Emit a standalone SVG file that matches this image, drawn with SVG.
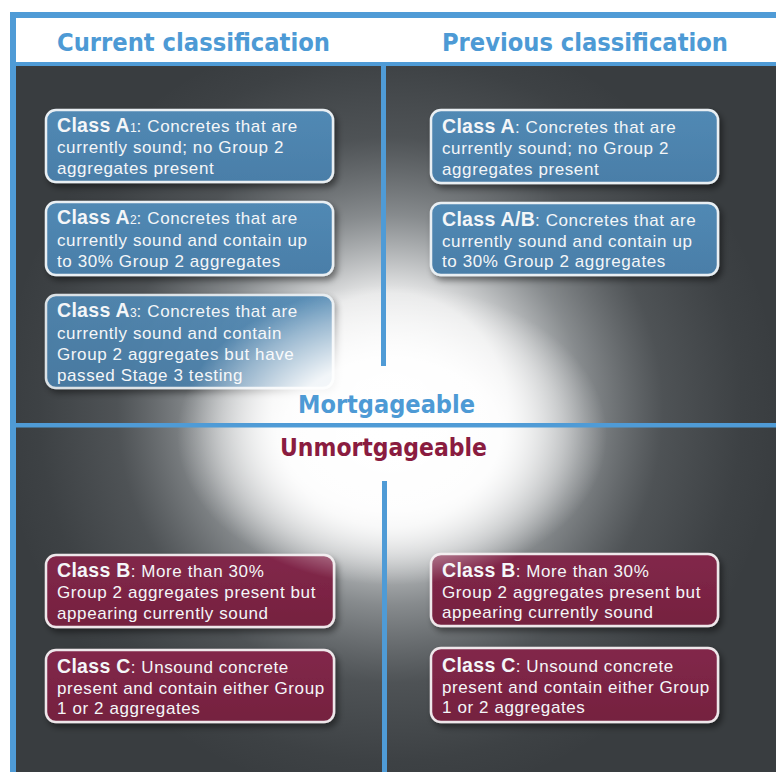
<svg xmlns="http://www.w3.org/2000/svg" width="776" height="772" viewBox="0 0 776 772">
  <defs>
    <radialGradient id="halo" cx="390" cy="410" r="390" gradientUnits="userSpaceOnUse">
      <stop offset="0" stop-color="#ffffff" stop-opacity="1"/>
      <stop offset="0.3" stop-color="#ffffff" stop-opacity="0.88"/>
      <stop offset="0.5" stop-color="#e6eaec" stop-opacity="0.45"/>
      <stop offset="0.7" stop-color="#c8cdd0" stop-opacity="0.15"/>
      <stop offset="0.9" stop-color="#c8cdd0" stop-opacity="0.03"/>
      <stop offset="1" stop-color="#c8cdd0" stop-opacity="0"/>
    </radialGradient>
    <radialGradient id="core" cx="0.5" cy="0.5" r="0.5">
      <stop offset="0" stop-color="#ffffff" stop-opacity="1"/>
      <stop offset="0.5" stop-color="#ffffff" stop-opacity="0.92"/>
      <stop offset="0.8" stop-color="#ffffff" stop-opacity="0.4"/>
      <stop offset="1" stop-color="#ffffff" stop-opacity="0"/>
    </radialGradient>
    <linearGradient id="blueFill" x1="0" y1="0" x2="0" y2="1">
      <stop offset="0" stop-color="#5189b4"/>
      <stop offset="1" stop-color="#4a7ea8"/>
    </linearGradient>
    <linearGradient id="redFill" x1="0" y1="0" x2="0" y2="1">
      <stop offset="0" stop-color="#82284a"/>
      <stop offset="1" stop-color="#75203f"/>
    </linearGradient>
    <filter id="shadow" x="-10%" y="-20%" width="125%" height="150%">
      <feDropShadow dx="3" dy="4" stdDeviation="3" flood-color="#000" flood-opacity="0.45"/>
    </filter>
  </defs>
  <style>
    .box-blue { fill: url(#blueFill); stroke: #e9eff3; stroke-width: 2.5; filter: url(#shadow); }
    .box-red { fill: url(#redFill); stroke: #eee7ea; stroke-width: 2.5; filter: url(#shadow); }
    .t { font-family: "Liberation Sans", Arial, sans-serif; font-size: 17px; fill: #f4f6f8; letter-spacing: 0.6px; }
    .b { font-weight: bold; font-size: 19.5px; letter-spacing: 0.3px; }
    .sub { font-size: 12px; font-weight: normal; letter-spacing: 0; }
    .head { font-family: "DejaVu Sans Condensed", "DejaVu Sans", sans-serif; font-stretch: condensed; font-weight: bold; font-size: 25px; fill: #4d9ad5; }
    .zone { font-family: "DejaVu Sans Condensed", "DejaVu Sans", sans-serif; font-stretch: condensed; font-weight: bold; font-size: 24px; }
    .line { fill: #4f9bd6; }
  </style>

  <!-- page & frame -->
  <rect x="0" y="0" width="776" height="772" fill="#ffffff"/>
  <rect x="16" y="66" width="760" height="706" fill="#393d40"/>
  <rect x="16" y="66" width="760" height="706" fill="url(#halo)"/>
  <rect x="10" y="12" width="766" height="6" class="line"/>
  <rect x="10" y="12" width="6" height="760" class="line"/>
  <rect x="16" y="18" width="760" height="44" fill="#ffffff"/>
  <rect x="16" y="62" width="760" height="4" class="line"/>

  <g id="headers">
    <text class="head" x="57" y="51" textLength="273" lengthAdjust="spacingAndGlyphs">Current classification</text>
    <text class="head" x="442" y="51" textLength="286" lengthAdjust="spacingAndGlyphs">Previous classification</text>
  </g>

  <g id="current-A1">
    <rect class="box-blue" x="46" y="110" width="287" height="72" rx="10"/>
    <text class="t" x="57" y="132"><tspan class="b">Class A<tspan class="sub">1</tspan></tspan>: Concretes that are</text>
    <text class="t" x="57" y="153">currently sound; no Group 2</text>
    <text class="t" x="57" y="174">aggregates present</text>
  </g>
  <g id="current-A2">
    <rect class="box-blue" x="46" y="202" width="287" height="73" rx="10"/>
    <text class="t" x="57" y="224"><tspan class="b">Class A<tspan class="sub">2</tspan></tspan>: Concretes that are</text>
    <text class="t" x="57" y="246">currently sound and contain up</text>
    <text class="t" x="57" y="267">to 30% Group 2 aggregates</text>
  </g>
  <g id="current-A3">
    <rect class="box-blue" x="46" y="295" width="287" height="93" rx="10" opacity="0.92"/>
    <text class="t" x="57" y="317"><tspan class="b">Class A<tspan class="sub">3</tspan></tspan>: Concretes that are</text>
    <text class="t" x="57" y="339">currently sound and contain</text>
    <text class="t" x="57" y="360">Group 2 aggregates but have</text>
    <text class="t" x="57" y="381">passed Stage 3 testing</text>
  </g>
  <g id="previous-A">
    <rect class="box-blue" x="431" y="110" width="287" height="73" rx="10"/>
    <text class="t" x="442" y="133"><tspan class="b">Class A</tspan>: Concretes that are</text>
    <text class="t" x="442" y="154">currently sound; no Group 2</text>
    <text class="t" x="442" y="175">aggregates present</text>
  </g>
  <g id="previous-AB">
    <rect class="box-blue" x="431" y="203" width="287" height="72" rx="10"/>
    <text class="t" x="442" y="226"><tspan class="b">Class A/B</tspan>: Concretes that are</text>
    <text class="t" x="442" y="247">currently sound and contain up</text>
    <text class="t" x="442" y="267">to 30% Group 2 aggregates</text>
  </g>

  <g id="current-B">
    <rect class="box-red" x="46" y="555" width="288" height="72" rx="10"/>
    <text class="t" x="57" y="577"><tspan class="b">Class B</tspan>: More than 30%</text>
    <text class="t" x="57" y="598">Group 2 aggregates present but</text>
    <text class="t" x="57" y="619">appearing currently sound</text>
  </g>
  <g id="current-C">
    <rect class="box-red" x="46" y="650" width="288" height="72" rx="10"/>
    <text class="t" x="57" y="673"><tspan class="b">Class C</tspan>: Unsound concrete</text>
    <text class="t" x="57" y="694">present and contain either Group</text>
    <text class="t" x="57" y="714">1 or 2 aggregates</text>
  </g>
  <g id="previous-B">
    <rect class="box-red" x="431" y="554" width="287" height="72" rx="10"/>
    <text class="t" x="442" y="577"><tspan class="b">Class B</tspan>: More than 30%</text>
    <text class="t" x="442" y="598">Group 2 aggregates present but</text>
    <text class="t" x="442" y="618">appearing currently sound</text>
  </g>
  <g id="previous-C">
    <rect class="box-red" x="431" y="648" width="287" height="74" rx="10"/>
    <text class="t" x="442" y="672"><tspan class="b">Class C</tspan>: Unsound concrete</text>
    <text class="t" x="442" y="693">present and contain either Group</text>
    <text class="t" x="442" y="713">1 or 2 aggregates</text>
  </g>

  <!-- bright core glow over the centre -->
  <ellipse cx="392" cy="435" rx="215" ry="150" fill="url(#core)"/>

  <g id="connectors">
    <rect x="381" y="66" width="5" height="300" class="line"/>
    <rect x="16" y="423" width="760" height="4.5" class="line"/>
    <rect x="382" y="481" width="5" height="291" class="line"/>
  </g>

  <g id="zone-labels">
    <text class="zone" x="298" y="413" fill="#4d9ad5" textLength="177" lengthAdjust="spacingAndGlyphs">Mortgageable</text>
    <text class="zone" x="280" y="456" fill="#8a1c40" textLength="207" lengthAdjust="spacingAndGlyphs">Unmortgageable</text>
  </g>
</svg>
